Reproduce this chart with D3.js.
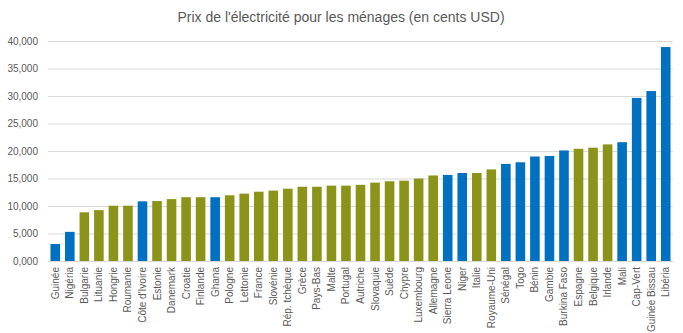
<!DOCTYPE html>
<html>
  <head>
    <meta charset="utf-8">
    <title>Prix de l'électricité</title>
    <script src="https://d3js.org/d3.v7.min.js"></script>
    <style>
body { margin: 0; background: #fff; }
text { font-family: "Liberation Sans", Arial, sans-serif; fill: #595959; }
    </style>
  </head>
  <body>
<script>
// Pays, dans l'ordre du graphique
var countries = ["Guinée", "Nigéria", "Bulgarie", "Lituanie", "Hongrie", "Roumanie",
  "Côte d'Ivoire", "Estonie", "Danemark", "Croatie", "Finlande", "Ghana", "Pologne",
  "Lettonie", "France", "Slovénie", "Rép. tchèque", "Grèce", "Pays-Bas", "Malte",
  "Portugal", "Autriche", "Slovaquie", "Suède", "Chypre", "Luxembourg", "Allemagne",
  "Sierra Leone", "Niger", "Italie", "Royaume-Uni", "Sénégal", "Togo", "Bénin",
  "Gambie", "Burkina Faso", "Espagne", "Belgique", "Irlande", "Mali", "Cap-Vert",
  "Guinée Bissau", "Libéria"];

// prix en cents USD
var prices = [3.1, 5.3, 8.85, 9.25, 10.05, 10.05,
  10.85, 10.9, 11.25, 11.6, 11.6, 11.6, 11.95,
  12.25, 12.6, 12.8, 13.15, 13.5, 13.5, 13.7,
  13.7, 13.85, 14.25, 14.5, 14.6, 15.0, 15.55,
  15.65, 16.0, 16.0, 16.65, 17.65, 17.95, 19.0,
  19.1, 20.1, 20.4, 20.6, 21.2, 21.6, 29.65,
  30.9, 38.9];

// A = Afrique, E = Europe
var region = ["A", "A", "E", "E", "E", "E",
  "A", "E", "E", "E", "E", "A", "E",
  "E", "E", "E", "E", "E", "E", "E",
  "E", "E", "E", "E", "E", "E", "E",
  "A", "A", "E", "E", "A", "A", "A",
  "A", "A", "E", "E", "E", "A", "A",
  "A", "A"];

var yTicks = [0, 5, 10, 15, 20, 25, 30, 35, 40];

var width = 683,
    height = 333,
    margin = {top: 41, right: 10, bottom: 72, left: 48},
    colors = {A: "#0070c0", E: "#8c9319"};

var svg = d3.select("body").append("svg")
  .attr("width", width)
  .attr("height", height);

var x = d3.scaleBand()
  .domain(countries)
  .range([margin.left, width - margin.right])
  .paddingInner(0.34)
  .paddingOuter(0.17);

var y = d3.scaleLinear()
  .domain([0, 40])
  .range([height - margin.bottom, margin.top]);

svg.append("text")
  .attr("x", 341)
  .attr("y", 22)
  .attr("text-anchor", "middle")
  .style("font-size", "14px")
  .text("Prix de l'électricité  pour les ménages (en cents USD)");

// grille + graduations
var yAxis = svg.append("g")
  .attr("transform", "translate(" + margin.left + ",0)")
  .call(d3.axisLeft(y)
    .tickValues(yTicks)
    .tickSize(-(width - margin.left - margin.right))
    .tickPadding(10)
    .tickFormat(function (d) { return d.toFixed(3).replace(".", ","); }));
yAxis.select(".domain").remove();
yAxis.selectAll("line").attr("stroke", "#d9d9d9");
yAxis.selectAll("text").style("font-size", "10px").attr("fill", "#595959");

svg.append("g").selectAll("rect")
  .data(countries)
  .join("rect")
    .attr("x", function (d) { return x(d); })
    .attr("width", x.bandwidth())
    .attr("y", function (d, i) { return y(prices[i]); })
    .attr("height", function (d, i) { return y(0) - y(prices[i]); })
    .attr("fill", function (d, i) { return colors[region[i]]; });

var xAxis = svg.append("g")
  .attr("transform", "translate(0," + y(0) + ")")
  .call(d3.axisBottom(x).tickSize(0).tickPadding(0));
xAxis.select(".domain").attr("stroke", "#d9d9d9");
xAxis.selectAll("text")
  .style("font-size", "10px")
  .attr("fill", "#595959")
  .attr("text-anchor", "end")
  .attr("dy", "0.35em")
  .attr("transform", "translate(0,6) rotate(-90)");
</script>
  </body>
</html>
